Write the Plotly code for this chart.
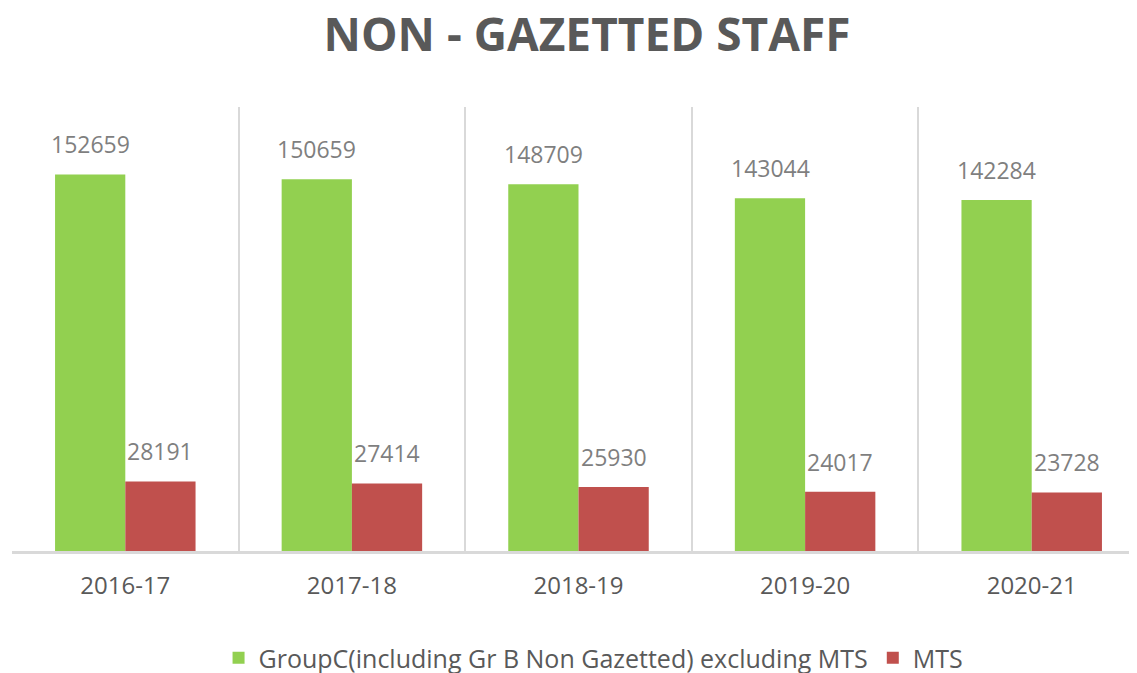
import plotly.graph_objects as go

years = ["2016-17", "2017-18", "2018-19", "2019-20", "2020-21"]
group_c = [152659, 150659, 148709, 143044, 142284]
mts = [28191, 27414, 25930, 24017, 23728]
series_names = ["GroupC(including Gr B Non Gazetted) excluding MTS", "MTS"]
colors = ["#92D050", "#C0504D"]

FONT = "Open Sans"
fig = go.Figure()
for name, vals, col in zip(series_names, [group_c, mts], colors):
    fig.add_trace(go.Bar(x=years, y=vals, name=name, marker=dict(color=col, line=dict(width=0)),
                         hoverinfo="x+y"))

annotations = []
for vals, shift in [(group_c, -35), (mts, 35)]:
    for yr, v in zip(years, vals):
        annotations.append(dict(x=yr, y=v, xref="x", yref="y", text=str(v), showarrow=False,
                                xshift=shift, yshift=30, yanchor="middle",
                                font=dict(family=FONT, size=23, color="#7F7F7F")))

fig.update_layout(
    width=1137, height=673,
    margin=dict(l=4, r=0, t=99, b=130, autoexpand=False),
    paper_bgcolor="white", plot_bgcolor="white",
    barmode="group", bargap=0.38, bargroupgap=0,
    title=dict(text="NON - GAZETTED STAFF", x=0.5075, xref="paper", xanchor="center",
               y=1 - 11 / 673, yref="container", yanchor="top", pad=dict(t=0, b=0),
               font=dict(family=FONT, size=46, color="#595959", weight="bold")),
    legend=dict(orientation="h", x=0.515, xanchor="center", xref="container",
                y=1 - 650 / 673, yref="container", yanchor="middle",
                font=dict(family=FONT, size=25, color="#595959")),
    annotations=annotations,
    showlegend=True,
)
fig.update_xaxes(type="category", range=[-0.5, 4.5], tickson="boundaries", showgrid=True,
                 gridcolor="#D9D9D9", gridwidth=2, showline=True, linecolor="#D9D9D9", linewidth=3,
                 ticks="", ticklabelstandoff=11, tickangle=0, automargin=False,
                 tickfont=dict(family=FONT, size=24, color="#595959"), fixedrange=True)
fig.update_yaxes(range=[0, 180000], showgrid=False, showticklabels=False, zeroline=False,
                 showline=False, fixedrange=True, automargin=False)

fig.write_html("out.html")
